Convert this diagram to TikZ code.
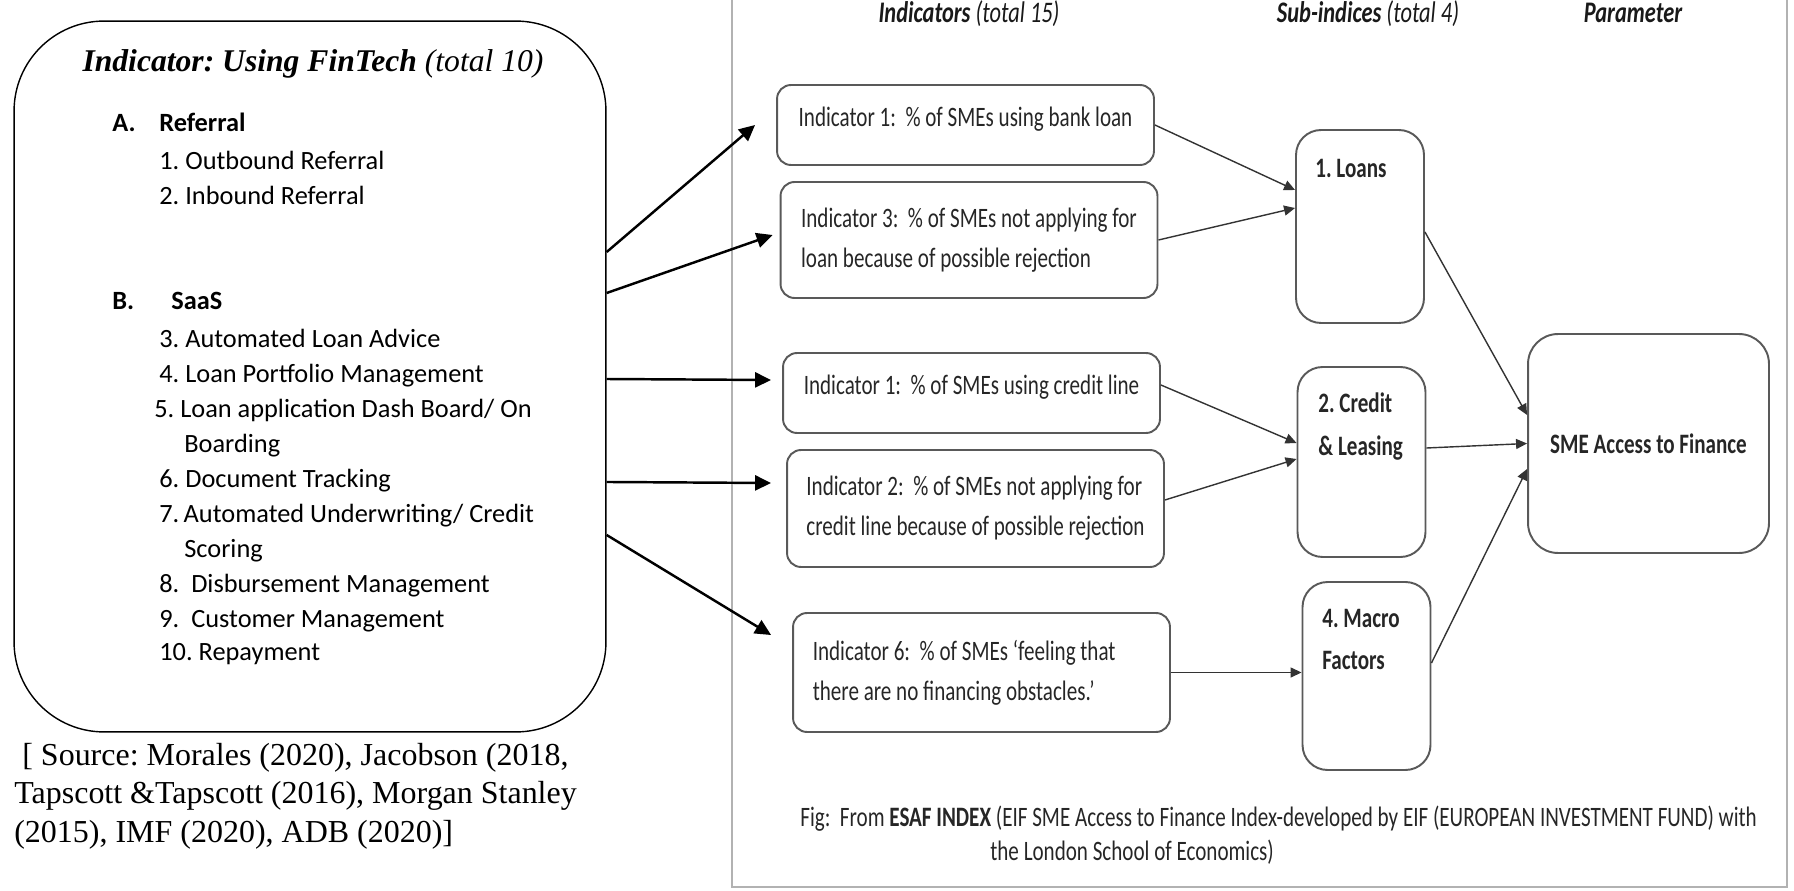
\documentclass[tikz,border=0pt]{standalone}
\usepackage{fontspec}
\setmainfont{Carlito}
\newfontfamily\timesfont{Liberation Serif}
\newfontfamily\narrowfont[FakeStretch=0.75]{Carlito}
\usetikzlibrary{arrows.meta}
\frenchspacing

\tikzset{
  listtext/.style={anchor=base west, inner sep=0pt, font=\fontsize{15}{20}\selectfont},
  listhead/.style={anchor=base west, inner sep=0pt, font=\bfseries\fontsize{15}{20}\selectfont},
  srctext/.style={anchor=base west, inner sep=0pt, font=\timesfont\fontsize{18.2}{21}\selectfont},
  indbox/.style={draw=black!65, line width=1.1pt, rounded corners=0.28cm, minimum width=7.54cm,
    align=left, text=black!85, font=\narrowfont\fontsize{16}{22.8}\selectfont},
  subbox/.style={draw=black!65, line width=1.1pt, rounded corners=0.5cm, minimum width=2.56cm},
  sublabel/.style={anchor=base west, inner sep=0pt, text=black!85, font=\narrowfont\bfseries\fontsize{16}{24}\selectfont},
  header/.style={anchor=base, inner sep=0pt, text=black!90, font=\narrowfont\itshape\fontsize{17}{20}\selectfont},
  captext/.style={anchor=base west, inner sep=0pt, text=black!85, font=\narrowfont\fontsize{16}{18}\selectfont},
  bigarrow/.style={-{Triangle[length=0.32cm,width=0.3cm]}, line width=1.4pt},
  thinarrow/.style={->, draw=black!80, line width=0.8pt}
}

\begin{document}
\begin{tikzpicture}[x=0.02cm,y=-0.02cm,>={Triangle[length=0.22cm,width=0.2cm]}]
\useasboundingbox (0,0) rectangle (1794,891);

% left: FinTech indicators
\node[draw, line width=0.8pt, rounded corners=1.8cm, minimum width=11.84cm, minimum height=14.22cm] (fintech) at (310,376.5) {};
\node[anchor=base, inner sep=0pt, font=\timesfont\fontsize{18}{21}\selectfont] (title) at (313,72) {\textbf{\textit{Indicator: Using FinTech}} \textit{(total 10)}};

\node[listhead] (hA) at (112,132) {\makebox[0.94cm][l]{A.}Referral};
\node[listtext] (it1) at (159,170) {1. Outbound Referral};
\node[listtext] (it2) at (159,205) {2. Inbound Referral};
\node[listhead] (hB) at (112,310) {\makebox[1.18cm][l]{B.}SaaS};
\node[listtext] (it3) at (159,348) {3. Automated Loan Advice};
\node[listtext] (it4) at (159,383) {4. Loan Portfolio Management};
\node[listtext] (it5) at (154,418) {5. Loan application Dash Board/ On};
\node[listtext] (it5b) at (184,453) {Boarding};
\node[listtext] (it6) at (159,487) {6. Document Tracking};
\node[listtext] (it7) at (159,522) {7.\,Automated Underwriting/ Credit};
\node[listtext] (it7b) at (184,557) {Scoring};
\node[listtext] (it8) at (159,592) {8.~~Disbursement Management};
\node[listtext] (it9) at (159,627) {9.~~Customer Management};
\node[listtext] (it10) at (159,660) {10. Repayment};

\node[srctext] (src1) at (22,765) {[ Source: Morales (2020), Jacobson (2018,};
\node[srctext] (src2) at (14,803) {Tapscott \&Tapscott (2016), Morgan Stanley};
\node[srctext] (src3) at (14,842) {(2015), IMF (2020), ADB (2020)]};

% right: ESAF index panel
\draw[draw=black!30, line width=1.5pt] (732,-10) rectangle (1787,887);
\node[header] (hind) at (969,23) {\textbf{Indicators} (total 15)};
\node[header] (hsub) at (1368,23) {\textbf{Sub-indices} (total 4)};
\node[header] (hpar) at (1633,23) {\textbf{Parameter}};

\node[indbox, minimum height=1.6cm, text depth=0.35cm] (ind1) at (965.5,125) {Indicator~1:~~\% of SMEs using bank loan};
\node[indbox, minimum height=2.32cm] (ind3) at (969,240) {Indicator~3:~~\% of SMEs not applying for\\loan because of possible rejection};
\node[indbox, minimum height=1.6cm, text depth=0.35cm] (indc1) at (971.5,393) {Indicator~1:~~\% of SMEs using credit line};
\node[indbox, minimum height=2.34cm] (ind2) at (975.5,508.5) {Indicator~2:~~\% of SMEs not applying for\\credit line because of possible rejection};
\node[indbox, minimum height=2.38cm] (ind6) at (981.5,672.5) {\makebox[6.75cm][l]{Indicator~6:~~\% of SMEs ‘feeling that}\\there are no financing obstacles.’};

\node[subbox, minimum height=3.86cm] (loans) at (1360,226.5) {};
\node[subbox, minimum height=3.8cm] (credit) at (1361.5,462) {};
\node[subbox, minimum height=3.76cm] (macro) at (1366.5,676) {};
\node[subbox, minimum width=4.82cm, minimum height=4.38cm, rounded corners=0.6cm, text=black!85,
  font=\narrowfont\bfseries\fontsize{16}{20}\selectfont] (sme) at (1648.5,443.5) {SME Access to Finance};

\node[sublabel] (lloans) at (1315,178) {1. Loans};
\node[sublabel] (lcredit) at (1318,413) {2. Credit};
\node[sublabel] (lleasing) at (1318,456) {\& Leasing};
\node[sublabel] (lmacro) at (1322,627) {4. Macro};
\node[sublabel] (lfactors) at (1322,669) {Factors};

\node[captext] (cap1) at (800,826) {Fig:~~From \textbf{ESAF INDEX} (EIF SME Access to Finance Index-developed by EIF (EUROPEAN INVESTMENT FUND) with};
\node[captext] (cap2) at (990,860) {the London School of Economics)};

% connectors
\draw[bigarrow] ([yshift=2.49cm]fintech.east) -- ([xshift=-0.42cm]ind1.west);
\draw[bigarrow] ([yshift=1.67cm]fintech.east) -- ([xshift=-0.14cm,yshift=0.1cm]ind3.west);
\draw[bigarrow] ([yshift=-0.05cm]fintech.east) -- ([xshift=-0.22cm,yshift=0.26cm]indc1.west);
\draw[bigarrow] ([yshift=-2.11cm]fintech.east) -- ([xshift=-0.3cm,yshift=0.51cm]ind2.west);
\draw[bigarrow] ([yshift=-3.17cm]fintech.east) -- ([xshift=-0.42cm,yshift=0.75cm]ind6.west);

\draw[thinarrow] (ind1.east) -- ([yshift=0.73cm]loans.west);
\draw[thinarrow] (ind3.east) -- ([yshift=0.37cm]loans.west);
\draw[thinarrow] ([yshift=0.16cm]indc1.east) -- ([yshift=0.38cm]credit.west);
\draw[thinarrow] ([yshift=0.17cm]ind2.east) -- ([yshift=0.06cm]credit.west);
\draw[thinarrow] (ind6.east) -- (ind6.east -| macro.west);
\draw[thinarrow] ([yshift=-0.11cm]loans.east) -- ([yshift=0.57cm]sme.west);
\draw[thinarrow] ([yshift=0.28cm]credit.east) -- (sme.west);
\draw[thinarrow] ([yshift=0.26cm]macro.east) -- ([yshift=-0.51cm]sme.west);
\end{tikzpicture}
\end{document}
